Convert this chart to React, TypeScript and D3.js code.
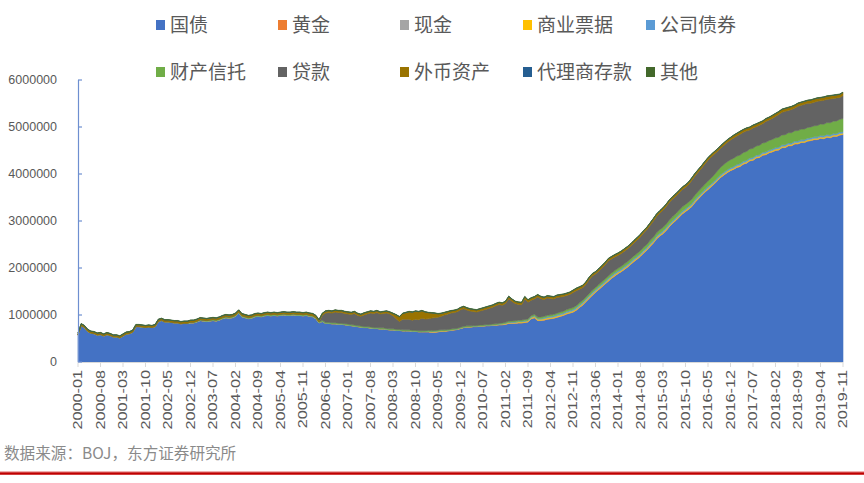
import React from 'react';
import * as d3 from 'd3';

// values in units of 10,000 (x10^4), monthly 2000-01 .. 2019-11
const UNIT = 10000;
const FIRST_YEAR = 2000;
const N_MONTHS = 239;

const gov = [
  57, 77, 73, 65, 61, 60, 57, 58, 55, 58, 56, 53,
  53, 51, 55, 59, 60, 63, 75, 75, 74, 73, 74, 73,
  75, 86, 88, 85, 85, 84, 83, 83, 81, 82, 81.5, 83,
  83, 85, 88, 87, 86, 87, 88, 87, 89, 92, 94, 93,
  94, 97, 104, 96, 94, 92, 93, 96, 97, 96, 98, 99,
  98, 99, 98, 99, 100, 99, 99, 100, 99, 99, 98, 99,
  97, 96, 92, 83, 86, 82, 82, 81, 81, 80, 80, 79,
  78, 77, 76, 75, 74, 73, 73, 72, 71, 71, 70, 70,
  69, 68, 68, 67, 67, 66, 66, 66, 65, 65, 64, 64,
  64, 64, 63, 63, 64, 65, 65, 66, 67, 68, 69, 71,
  73, 74, 74, 75, 75, 76, 76, 77, 77, 78, 78, 79,
  79, 80, 82, 82, 82, 83, 83, 84, 85, 92, 94, 88,
  88, 89, 91, 92, 93, 95, 97, 99, 102, 104, 106, 110,
  116, 121, 128, 135, 142, 148, 154, 160, 166, 172, 178, 183,
  188, 192, 197, 202, 208, 214, 219, 225, 232, 238, 246, 253,
  262, 268, 273, 280, 288, 295, 301, 308, 315, 320, 325, 331,
  340, 347, 354, 361, 367, 373, 379, 386, 393, 398, 403, 407,
  410, 414, 416, 421, 423, 428, 429, 434, 435, 440, 441, 445,
  447, 450, 451, 456, 456, 460, 460, 464, 464, 467, 467, 470,
  471, 473, 473, 476, 475, 478, 477, 480, 480, 483, 484,
];

const gold = [
  0.44, 0.44, 0.44, 0.44, 0.44, 0.44, 0.44, 0.44, 0.44, 0.44, 0.44, 0.44,
  0.44, 0.44, 0.44, 0.44, 0.44, 0.44, 0.44, 0.44, 0.44, 0.44, 0.44, 0.44,
  0.44, 0.44, 0.44, 0.44, 0.44, 0.44, 0.44, 0.44, 0.44, 0.44, 0.44, 0.44,
  0.44, 0.44, 0.44, 0.44, 0.44, 0.44, 0.44, 0.44, 0.44, 0.44, 0.44, 0.44,
  0.44, 0.44, 0.44, 0.44, 0.44, 0.44, 0.44, 0.44, 0.44, 0.44, 0.44, 0.44,
  0.44, 0.44, 0.44, 0.44, 0.44, 0.44, 0.44, 0.44, 0.44, 0.44, 0.44, 0.44,
  0.44, 0.44, 0.44, 0.44, 0.44, 0.44, 0.44, 0.44, 0.44, 0.44, 0.44, 0.44,
  0.44, 0.44, 0.44, 0.44, 0.44, 0.44, 0.44, 0.44, 0.44, 0.44, 0.44, 0.44,
  0.44, 0.44, 0.44, 0.44, 0.44, 0.44, 0.44, 0.44, 0.44, 0.44, 0.44, 0.44,
  0.44, 0.44, 0.44, 0.44, 0.44, 0.44, 0.44, 0.44, 0.44, 0.44, 0.44, 0.44,
  0.44, 0.44, 0.44, 0.44, 0.44, 0.44, 0.44, 0.44, 0.44, 0.44, 0.44, 0.44,
  0.44, 0.44, 0.44, 0.44, 0.44, 0.44, 0.44, 0.44, 0.44, 0.44, 0.44, 0.44,
  0.44, 0.44, 0.44, 0.44, 0.44, 0.44, 0.44, 0.44, 0.44, 0.44, 0.44, 0.44,
  0.44, 0.44, 0.44, 0.44, 0.44, 0.44, 0.44, 0.44, 0.44, 0.44, 0.44, 0.44,
  0.44, 0.44, 0.44, 0.44, 0.44, 0.44, 0.44, 0.44, 0.44, 0.44, 0.44, 0.44,
  0.44, 0.44, 0.44, 0.44, 0.44, 0.44, 0.44, 0.44, 0.44, 0.44, 0.44, 0.44,
  0.44, 0.44, 0.44, 0.44, 0.44, 0.44, 0.44, 0.44, 0.44, 0.44, 0.44, 0.44,
  0.44, 0.44, 0.44, 0.44, 0.44, 0.44, 0.44, 0.44, 0.44, 0.44, 0.44, 0.44,
  0.44, 0.44, 0.44, 0.44, 0.44, 0.44, 0.44, 0.44, 0.44, 0.44, 0.44, 0.44,
  0.44, 0.44, 0.44, 0.44, 0.44, 0.44, 0.44, 0.44, 0.44, 0.44, 0.44,
];

const cash = [
  0.2, 0.2, 0.2, 0.2, 0.2, 0.2, 0.2, 0.2, 0.2, 0.2, 0.2, 0.2,
  0.2, 0.2, 0.2, 0.2, 0.2, 0.2, 0.2, 0.2, 0.2, 0.2, 0.2, 0.2,
  0.2, 0.2, 0.2, 0.2, 0.2, 0.2, 0.2, 0.2, 0.2, 0.2, 0.2, 0.2,
  0.2, 0.2, 0.2, 0.2, 0.2, 0.2, 0.2, 0.2, 0.2, 0.2, 0.2, 0.2,
  0.2, 0.2, 0.2, 0.2, 0.2, 0.2, 0.2, 0.2, 0.2, 0.2, 0.2, 0.2,
  0.2, 0.2, 0.2, 0.2, 0.2, 0.2, 0.2, 0.2, 0.2, 0.2, 0.2, 0.2,
  0.2, 0.2, 0.2, 0.2, 0.2, 0.2, 0.2, 0.2, 0.2, 0.2, 0.2, 0.2,
  0.2, 0.2, 0.2, 0.2, 0.2, 0.2, 0.2, 0.2, 0.2, 0.2, 0.2, 0.2,
  0.2, 0.2, 0.2, 0.2, 0.2, 0.2, 0.2, 0.2, 0.2, 0.2, 0.2, 0.2,
  0.2, 0.2, 0.2, 0.2, 0.2, 0.2, 0.2, 0.2, 0.2, 0.2, 0.2, 0.2,
  0.2, 0.2, 0.2, 0.2, 0.2, 0.2, 0.2, 0.2, 0.2, 0.2, 0.2, 0.2,
  0.3, 0.3, 0.3, 0.3, 0.3, 0.3, 0.3, 0.3, 0.3, 0.3, 0.3, 0.3,
  0.3, 0.3, 0.3, 0.3, 0.3, 0.3, 0.3, 0.3, 0.3, 0.3, 0.3, 0.3,
  0.3, 0.3, 0.3, 0.3, 0.3, 0.3, 0.3, 0.3, 0.3, 0.3, 0.3, 0.3,
  0.3, 0.3, 0.3, 0.3, 0.3, 0.3, 0.3, 0.3, 0.3, 0.3, 0.3, 0.3,
  0.3, 0.3, 0.3, 0.3, 0.3, 0.3, 0.3, 0.3, 0.3, 0.3, 0.3, 0.3,
  0.3, 0.3, 0.3, 0.3, 0.3, 0.3, 0.3, 0.3, 0.3, 0.3, 0.3, 0.3,
  0.3, 0.3, 0.3, 0.3, 0.3, 0.3, 0.3, 0.3, 0.3, 0.3, 0.3, 0.3,
  0.3, 0.3, 0.3, 0.3, 0.3, 0.3, 0.3, 0.3, 0.3, 0.3, 0.3, 0.3,
  0.3, 0.3, 0.3, 0.3, 0.3, 0.3, 0.3, 0.3, 0.3, 0.3, 0.3,
];

const commercialPaper = [
  0, 0, 0, 0, 0, 0, 0, 0, 0, 0, 0, 0,
  0, 0, 0, 0, 0, 0, 0, 0, 0, 0, 0, 0,
  0, 0, 0, 0, 0, 0, 0, 0, 0, 0, 0, 0,
  0, 0, 0, 0, 0, 0, 0, 0, 0, 0, 0, 0,
  0, 0, 0, 0, 0, 0, 0, 0, 0, 0, 0, 0,
  0, 0, 0, 0, 0, 0, 0, 0, 0, 0, 0, 0,
  0, 0, 0, 0, 0, 0, 0, 0, 0, 0, 0, 0,
  0, 0, 0, 0, 0, 0, 0, 0, 0, 0, 0, 0,
  0, 0, 0, 0, 0, 0, 0, 0, 0, 0, 0, 0,
  0.3, 0.8, 1.2, 1.3, 1.1, 0.9, 0.7, 0.5, 0.4, 0.4, 0.3, 0.3,
  0.3, 0.3, 0.3, 0.3, 0.3, 0.3, 0.3, 0.3, 0.3, 0.3, 0.5, 0.8,
  1.0, 1.2, 1.3, 1.4, 1.5, 1.5, 1.5, 1.6, 1.7, 1.8, 1.9, 2.0,
  2.0, 2.1, 2.1, 2.0, 2.0, 2.1, 2.1, 2.0, 2.0, 2.1, 2.1, 2.1,
  2.0, 2.1, 2.1, 2.0, 2.0, 2.1, 2.1, 2.0, 2.0, 2.1, 2.1, 2.2,
  2.1, 2.2, 2.2, 2.1, 2.1, 2.2, 2.2, 2.1, 2.2, 2.2, 2.2, 2.2,
  2.1, 2.2, 2.2, 2.1, 2.2, 2.2, 2.2, 2.1, 2.2, 2.2, 2.2, 2.2,
  2.1, 2.2, 2.2, 2.1, 2.2, 2.2, 2.2, 2.1, 2.2, 2.2, 2.2, 2.2,
  2.1, 2.2, 2.2, 2.1, 2.2, 2.2, 2.2, 2.1, 2.2, 2.2, 2.2, 2.2,
  2.1, 2.2, 2.2, 2.1, 2.2, 2.2, 2.2, 2.1, 2.2, 2.2, 2.2, 2.2,
  2.1, 2.2, 2.2, 2.1, 2.2, 2.2, 2.2, 2.1, 2.2, 2.2, 2.2,
];

const corpBonds = [
  0, 0, 0, 0, 0, 0, 0, 0, 0, 0, 0, 0,
  0, 0, 0, 0, 0, 0, 0, 0, 0, 0, 0, 0,
  0, 0, 0, 0, 0, 0, 0, 0, 0, 0, 0, 0,
  0, 0, 0, 0, 0, 0, 0, 0, 0, 0, 0, 0,
  0, 0, 0, 0, 0, 0, 0, 0, 0, 0, 0, 0,
  0, 0, 0, 0, 0, 0, 0, 0, 0, 0, 0, 0,
  0, 0, 0, 0, 0, 0, 0, 0, 0, 0, 0, 0,
  0, 0, 0, 0, 0, 0, 0, 0, 0, 0, 0, 0,
  0, 0, 0, 0, 0, 0, 0, 0, 0, 0, 0, 0,
  0, 0.1, 0.2, 0.3, 0.3, 0.3, 0.3, 0.3, 0.3, 0.2, 0.2, 0.2,
  0.2, 0.2, 0.2, 0.1, 0.1, 0.1, 0.1, 0.1, 0.1, 0.1, 0.2, 0.3,
  0.5, 0.6, 0.8, 1.0, 1.1, 1.2, 1.3, 1.4, 1.5, 1.6, 1.7, 1.9,
  2.0, 2.1, 2.2, 2.3, 2.4, 2.5, 2.6, 2.7, 2.8, 2.9, 2.9, 2.9,
  2.9, 3.0, 3.0, 3.0, 3.0, 3.1, 3.1, 3.1, 3.1, 3.2, 3.2, 3.2,
  3.1, 3.1, 3.1, 3.1, 3.1, 3.1, 3.1, 3.1, 3.1, 3.1, 3.1, 3.2,
  3.2, 3.2, 3.2, 3.2, 3.2, 3.2, 3.2, 3.2, 3.2, 3.2, 3.2, 3.2,
  3.2, 3.2, 3.2, 3.2, 3.2, 3.2, 3.2, 3.2, 3.2, 3.2, 3.2, 3.2,
  3.2, 3.2, 3.2, 3.2, 3.2, 3.2, 3.2, 3.2, 3.2, 3.2, 3.2, 3.2,
  3.2, 3.2, 3.2, 3.2, 3.2, 3.2, 3.2, 3.2, 3.2, 3.2, 3.2, 3.2,
  3.2, 3.2, 3.2, 3.2, 3.2, 3.2, 3.2, 3.2, 3.2, 3.2, 3.2,
];

const moneyTrust = [
  0, 0, 0, 0, 0, 0, 0, 0, 0, 0, 0, 0,
  0, 0, 0, 0, 0, 0, 0, 0, 0, 0, 0, 0,
  0, 0, 0, 0, 0, 0, 0, 0, 0, 0, 0.5, 1.0,
  1.2, 1.3, 1.4, 1.5, 1.6, 1.7, 1.8, 1.9, 2.0, 2.0, 2.0, 2.0,
  2.0, 2.0, 2.0, 2.0, 2.0, 2.0, 2.0, 2.0, 2.0, 2.0, 2.0, 2.0,
  2.0, 2.0, 2.0, 2.0, 2.0, 2.0, 2.0, 2.0, 2.0, 2.0, 2.0, 2.0,
  2.0, 2.0, 2.0, 2.0, 2.0, 2.0, 2.0, 2.0, 2.0, 2.0, 2.0, 2.0,
  2.0, 2.0, 2.0, 2.0, 2.0, 2.0, 2.0, 2.0, 2.0, 2.0, 2.0, 2.0,
  1.9, 1.9, 1.9, 1.9, 1.9, 1.9, 1.8, 1.8, 1.8, 1.8, 1.8, 1.8,
  1.8, 1.8, 1.8, 1.8, 1.8, 1.8, 1.8, 1.8, 1.8, 1.8, 1.8, 1.8,
  1.8, 1.8, 1.8, 1.8, 1.8, 1.8, 1.8, 1.8, 1.8, 1.8, 1.8, 1.9,
  2.0, 2.1, 2.2, 2.3, 2.4, 2.5, 2.6, 2.7, 2.8, 2.9, 3.0, 3.1,
  3.2, 3.3, 3.3, 3.4, 3.5, 3.6, 3.7, 3.8, 3.9, 4.0, 4.1, 4.2,
  4.3, 4.4, 4.5, 4.6, 4.7, 4.8, 4.9, 5.0, 5.1, 5.2, 5.3, 5.4,
  5.5, 5.6, 5.8, 5.9, 6.0, 6.1, 6.2, 6.3, 6.4, 6.6, 6.8, 6.9,
  7.0, 7.3, 7.5, 7.8, 8.0, 8.3, 8.5, 8.8, 9.0, 9.2, 9.4, 9.6,
  9.8, 10.0, 10.4, 11.0, 11.8, 12.6, 13.6, 15.0, 16.0, 16.6, 17.0, 17.4,
  17.7, 18.0, 18.3, 18.6, 18.9, 19.2, 19.4, 19.6, 19.8, 20.0, 20.2, 20.4,
  20.6, 20.8, 21.0, 21.2, 21.4, 21.6, 21.8, 22.0, 22.2, 22.4, 22.6, 22.8,
  23.1, 23.5, 23.9, 24.3, 24.8, 25.3, 25.8, 26.3, 26.8, 27.3, 27.8,
];

const loans = [
  0, 0, 0, 0, 0, 0, 0, 0, 0, 0, 0, 0,
  0, 0, 0, 0, 0, 0, 0, 0, 0, 0, 0, 0,
  0, 0, 0, 0, 0, 0, 0, 0, 0, 0, 0, 0,
  0, 0, 0, 0, 0, 0, 0, 0, 0, 0, 0, 0,
  0, 0, 0, 0, 0, 0, 0, 0, 0, 0, 0, 0,
  0, 0, 0, 0, 0, 0, 0, 0, 0, 0, 0, 0,
  0, 0, 0, 0, 10.5, 19.5, 20.5, 20.5, 22.5, 22.5, 22.5, 21.5,
  21.5, 21.5, 24.5, 21.5, 20.5, 24.5, 26.5, 29.5, 29.5, 31.5, 29.5, 30.5,
  32.6, 31.6, 27.6, 22.6, 16.6, 22.6, 22.6, 22.6, 21.6, 23.6, 23.6, 26.6,
  24.6, 24.6, 26.6, 27.6, 27.6, 28.6, 31.6, 32.6, 34.1, 34.1, 35.1, 37.1,
  37.5, 33.5, 31.5, 29.5, 28.5, 29.5, 31.5, 32.5, 34.5, 35.5, 38.5, 39.5,
  37.6, 39.6, 47.6, 41.6, 36.6, 33.6, 32.6, 43.6, 35.6, 32.6, 32.6, 42.6,
  38.7, 35.6, 36.6, 34.5, 32.4, 33.3, 32.2, 31.1, 30.0, 29.9, 31.8, 31.7,
  28.9, 26.8, 26.7, 29.6, 30.5, 28.4, 28.3, 29.2, 30.1, 32.0, 29.9, 28.8,
  27.3, 27.2, 27.0, 26.9, 26.8, 27.7, 28.6, 29.5, 30.4, 31.2, 32.0, 33.9,
  34.7, 35.4, 36.2, 36.9, 37.7, 37.4, 37.2, 36.9, 36.7, 36.5, 37.3, 40.1,
  40.4, 41.2, 41.8, 43.2, 44.4, 44.6, 43.6, 41.2, 40.2, 40.6, 41.2, 41.8,
  43.0, 42.7, 44.4, 43.1, 43.8, 40.5, 43.3, 41.1, 42.9, 40.7, 44.5, 43.3,
  44.6, 45.4, 48.2, 48.0, 49.8, 47.6, 49.4, 48.2, 52.0, 50.8, 52.6, 51.4,
  50.6, 50.2, 51.8, 49.4, 50.9, 49.4, 50.9, 48.4, 48.9, 46.4, 48.9,
];

const foreignAssets = [
  3.5, 3.5, 3.5, 3.5, 3.5, 3.5, 3.5, 3.5, 3.5, 3.5, 3.5, 3.5,
  3.5, 3.5, 3.5, 3.5, 3.5, 3.5, 3.5, 3.5, 3.5, 3.5, 3.5, 3.5,
  3.8, 3.8, 3.8, 3.8, 3.8, 3.8, 3.8, 3.8, 3.8, 3.8, 3.8, 3.8,
  3.8, 3.8, 3.8, 3.8, 3.8, 3.8, 3.8, 3.8, 3.8, 3.8, 3.8, 3.8,
  3.8, 3.8, 3.8, 3.8, 3.8, 3.8, 3.8, 3.8, 3.8, 3.8, 3.8, 3.8,
  3.8, 3.8, 3.8, 3.8, 3.8, 3.8, 3.8, 3.8, 3.8, 3.8, 3.8, 3.8,
  4.0, 4.0, 4.0, 4.0, 4.0, 4.0, 4.0, 4.0, 4.0, 4.0, 4.0, 4.0,
  4.0, 4.0, 4.0, 4.0, 4.0, 4.0, 4.0, 4.0, 4.0, 4.0, 4.0, 4.0,
  4, 4, 5, 8, 10, 12, 14, 16, 17, 17, 17, 16,
  15, 13, 11, 9, 7, 6, 5, 5, 4.5, 4.5, 4.5, 4.5,
  4.5, 4.4, 4.4, 4.3, 4.3, 4.4, 4.4, 4.5, 4.5, 4.5, 4.4, 4.4,
  4.5, 4.5, 4.6, 4.6, 4.5, 4.5, 4.6, 4.6, 4.5, 4.5, 4.6, 4.6,
  4.5, 4.5, 4.6, 4.6, 4.5, 4.5, 4.6, 4.6, 4.5, 4.5, 4.6, 4.7,
  4.6, 4.6, 4.7, 4.7, 4.6, 4.6, 4.7, 4.7, 4.6, 4.6, 4.7, 4.7,
  4.6, 4.6, 4.7, 4.7, 4.6, 4.6, 4.7, 4.7, 4.6, 4.6, 4.7, 4.8,
  4.7, 4.7, 4.8, 4.8, 4.7, 4.7, 4.8, 4.8, 4.8, 4.8, 4.9, 4.9,
  5.0, 5.0, 5.0, 5.0, 5.0, 5.0, 5.0, 5.0, 5.0, 5.0, 5.0, 5.0,
  5.5, 5.5, 5.5, 5.5, 5.5, 5.5, 5.5, 5.5, 5.5, 5.5, 5.5, 5.5,
  6.0, 6.0, 6.0, 6.0, 6.0, 6.0, 6.0, 6.0, 6.0, 6.0, 6.0, 6.0,
  6.5, 6.5, 6.5, 6.5, 6.5, 6.5, 6.5, 6.5, 6.5, 6.5, 6.5,
];

const agencyDeposits = [
  0.3, 0.3, 0.3, 0.3, 0.3, 0.3, 0.3, 0.3, 0.3, 0.3, 0.3, 0.3,
  0.3, 0.3, 0.3, 0.3, 0.3, 0.3, 0.3, 0.3, 0.3, 0.3, 0.3, 0.3,
  0.3, 0.3, 0.3, 0.3, 0.3, 0.3, 0.3, 0.3, 0.3, 0.3, 0.3, 0.3,
  0.3, 0.3, 0.3, 0.3, 0.3, 0.3, 0.3, 0.3, 0.3, 0.3, 0.3, 0.3,
  0.3, 0.3, 0.3, 0.3, 0.3, 0.3, 0.3, 0.3, 0.3, 0.3, 0.3, 0.3,
  0.3, 0.3, 0.3, 0.3, 0.3, 0.3, 0.3, 0.3, 0.3, 0.3, 0.3, 0.3,
  0.3, 0.3, 0.3, 0.3, 0.3, 0.3, 0.3, 0.3, 0.3, 0.3, 0.3, 0.3,
  0.3, 0.3, 0.3, 0.3, 0.3, 0.3, 0.3, 0.3, 0.3, 0.3, 0.3, 0.3,
  0.3, 0.3, 0.3, 0.3, 0.3, 0.3, 0.3, 0.3, 0.3, 0.3, 0.3, 0.3,
  0.3, 0.3, 0.3, 0.3, 0.3, 0.3, 0.3, 0.3, 0.3, 0.3, 0.3, 0.3,
  0.3, 0.3, 0.3, 0.3, 0.3, 0.3, 0.3, 0.3, 0.3, 0.3, 0.3, 0.3,
  0.3, 0.3, 0.3, 0.3, 0.3, 0.3, 0.3, 0.3, 0.3, 0.3, 0.3, 0.3,
  0.3, 0.3, 0.3, 0.3, 0.3, 0.3, 0.3, 0.3, 0.3, 0.3, 0.3, 0.3,
  0.3, 0.3, 0.3, 0.3, 0.3, 0.3, 0.3, 0.3, 0.3, 0.3, 0.3, 0.3,
  0.3, 0.3, 0.3, 0.3, 0.3, 0.3, 0.3, 0.3, 0.3, 0.3, 0.3, 0.3,
  0.3, 0.3, 0.3, 0.3, 0.3, 0.3, 0.3, 0.3, 0.3, 0.3, 0.3, 0.3,
  0.3, 0.3, 0.3, 0.3, 0.3, 0.3, 0.3, 0.3, 0.3, 0.3, 0.3, 0.3,
  0.3, 0.3, 0.3, 0.3, 0.3, 0.3, 0.3, 0.3, 0.3, 0.3, 0.3, 0.3,
  0.3, 0.3, 0.3, 0.3, 0.3, 0.3, 0.3, 0.3, 0.3, 0.3, 0.3, 0.3,
  0.3, 0.3, 0.3, 0.3, 0.3, 0.3, 0.3, 0.3, 0.3, 0.3, 0.3,
];

const others = [
  0.6, 0.6, 0.6, 0.6, 0.6, 0.6, 0.6, 0.6, 0.6, 0.6, 0.6, 0.6,
  0.6, 0.6, 0.6, 0.6, 0.6, 0.6, 0.6, 0.6, 0.6, 0.6, 0.6, 0.6,
  0.6, 0.6, 0.6, 0.6, 0.6, 0.6, 0.6, 0.6, 0.6, 0.6, 0.6, 0.6,
  0.6, 0.6, 0.6, 0.6, 0.6, 0.6, 0.6, 0.6, 0.6, 0.6, 0.6, 0.6,
  0.6, 0.6, 0.6, 0.6, 0.6, 0.6, 0.6, 0.6, 0.6, 0.6, 0.6, 0.6,
  0.6, 0.6, 0.6, 0.6, 0.6, 0.6, 0.6, 0.6, 0.6, 0.6, 0.6, 0.6,
  0.6, 0.6, 0.6, 0.6, 0.6, 0.6, 0.6, 0.6, 0.6, 0.6, 0.6, 0.6,
  0.6, 0.6, 0.6, 0.6, 0.6, 0.6, 0.6, 0.6, 0.6, 0.6, 0.6, 0.6,
  0.6, 0.6, 0.6, 0.6, 0.6, 0.6, 0.6, 0.6, 0.6, 0.6, 0.6, 0.6,
  0.6, 0.6, 0.6, 0.6, 0.6, 0.6, 0.6, 0.6, 0.6, 0.6, 0.6, 0.6,
  0.6, 0.6, 0.6, 0.6, 0.6, 0.6, 0.6, 0.6, 0.6, 0.6, 0.6, 0.6,
  0.6, 0.6, 0.6, 0.6, 0.6, 0.6, 0.6, 0.6, 0.6, 0.6, 0.6, 0.6,
  0.6, 0.6, 0.6, 0.6, 0.6, 0.6, 0.6, 0.6, 0.6, 0.6, 0.6, 0.6,
  0.6, 0.6, 0.6, 0.6, 0.6, 0.6, 0.6, 0.6, 0.6, 0.6, 0.6, 0.6,
  0.6, 0.6, 0.6, 0.6, 0.6, 0.6, 0.6, 0.6, 0.6, 0.6, 0.6, 0.6,
  0.6, 0.6, 0.6, 0.6, 0.6, 0.6, 0.6, 0.6, 0.6, 0.6, 0.6, 0.6,
  0.6, 0.6, 0.6, 0.6, 0.6, 0.6, 0.6, 0.6, 0.6, 0.6, 0.6, 0.6,
  0.6, 0.6, 0.6, 0.6, 0.6, 0.6, 0.6, 0.6, 0.6, 0.6, 0.6, 0.6,
  0.6, 0.6, 0.6, 0.6, 0.6, 0.6, 0.6, 0.6, 0.6, 0.6, 0.6, 0.6,
  0.6, 0.6, 0.6, 0.6, 0.6, 0.6, 0.6, 0.6, 0.6, 0.6, 0.6,
];

const seriesNames = ['国债', '黄金', '现金', '商业票据', '公司债券', '财产信托', '贷款', '外币资产', '代理商存款', '其他'];
const seriesValues = [gov, gold, cash, commercialPaper, corpBonds, moneyTrust, loans, foreignAssets, agencyDeposits, others];
const seriesColors = ['#4472C4', '#ED7D31', '#A5A5A5', '#FFC000', '#5B9BD5', '#70AD47', '#636363', '#997300', '#255E91', '#43682B'];

const yTicks = [0, 1000000, 2000000, 3000000, 4000000, 5000000, 6000000];
const LABEL_STEP = 7;
const sourceNote = '数据来源：BOJ，东方证券研究所';

const monthLabels = d3.range(N_MONTHS).map((i) => {
  const yr = FIRST_YEAR + Math.floor(i / 12);
  const mo = (i % 12) + 1;
  return `${yr}-${mo < 10 ? '0' + mo : mo}`;
});

export default function App() {
  const W = 864, H = 483;
  const left = 78, right = 843, top = 80, bottom = 362;

  const rows = monthLabels.map((m, i) => {
    const r: Record<string, number | string> = { month: m };
    seriesNames.forEach((k, s) => { r[k] = seriesValues[s][i] * UNIT; });
    return r;
  });

  const stacked = d3.stack<any>().keys(seriesNames)(rows as any);
  const x = d3.scaleLinear().domain([0, N_MONTHS - 1]).range([left, right]);
  const y = d3.scaleLinear().domain([0, 6000000]).range([bottom, top]);
  const area = d3.area<any>()
    .x((_d, i) => x(i))
    .y0((d) => y(d[0]))
    .y1((d) => y(d[1]));

  const labelIdx = d3.range(0, N_MONTHS, LABEL_STEP);
  const legendCols = [156, 278, 400, 523, 646];
  const legendRows = [25, 72];
  const textFont = '"Liberation Sans", Arial, sans-serif';
  const cjkFont = '"Noto Sans CJK SC", "Noto Sans", sans-serif';

  return (
    <svg width={W} height={H} style={{ position: 'absolute', left: 0, top: 0, background: '#fff' }}>
      <rect x={0} y={0} width={W} height={H} fill="#fff" />
      {/* areas */}
      {stacked.map((s, k) => (
        <path key={seriesNames[k]} d={area(s as any) || ''} fill={seriesColors[k]} stroke={seriesColors[k]} strokeWidth={0.6} strokeLinejoin="round" />
      ))}
      {/* x axis */}
      <line x1={left} x2={right} y1={bottom + 0.5} y2={bottom + 0.5} stroke="#D9D9D9" strokeWidth={1} />
      {labelIdx.map((i) => (
        <line key={'t' + i} x1={x(i)} x2={x(i)} y1={bottom} y2={bottom + 5} stroke="#D9D9D9" strokeWidth={1} />
      ))}
      {labelIdx.map((i) => (
        <text key={'l' + i}
          transform={`translate(${x(i) + 4},${bottom + 8}) rotate(-90) scale(1.35,1)`}
          textAnchor="end" fontSize={12} fill="#595959" fontFamily={textFont}>
          {monthLabels[i]}
        </text>
      ))}
      {/* y axis */}
      <line x1={left + 0.5} x2={left + 0.5} y1={top} y2={bottom} stroke="#6E8FD0" strokeWidth={1.2} />
      {yTicks.map((v) => (
        <g key={'y' + v}>
          <line x1={left} x2={left + 4} y1={y(v)} y2={y(v)} stroke="#6E8FD0" strokeWidth={1.2} />
          <text x={57} y={y(v)} dy="0.35em" textAnchor="end" fontSize={12.5} fill="#595959" fontFamily={textFont}>{v}</text>
        </g>
      ))}
      {/* legend */}
      {seriesNames.map((n, k) => {
        const cx = legendCols[k % 5];
        const cy = legendRows[Math.floor(k / 5)];
        return (
          <g key={'lg' + n}>
            <rect x={cx} y={cy - 5} width={9} height={10} fill={seriesColors[k]} />
            <text x={cx + 14} y={cy} dy="0.36em" fontSize={19} fill="#595959" fontFamily={cjkFont}>{n}</text>
          </g>
        );
      })}
      {/* source */}
      <text x={4} y={453} dy="0.36em" fontSize={15.6} fill="#8A8A8A" fontFamily={cjkFont}>{sourceNote}</text>
      <line x1={0} x2={W} y1={471.5} y2={471.5} stroke="#F0B0B0" strokeWidth={1} />
      <line x1={0} x2={W} y1={473.5} y2={473.5} stroke="#C00000" strokeWidth={2.4} />
    </svg>
  );
}
